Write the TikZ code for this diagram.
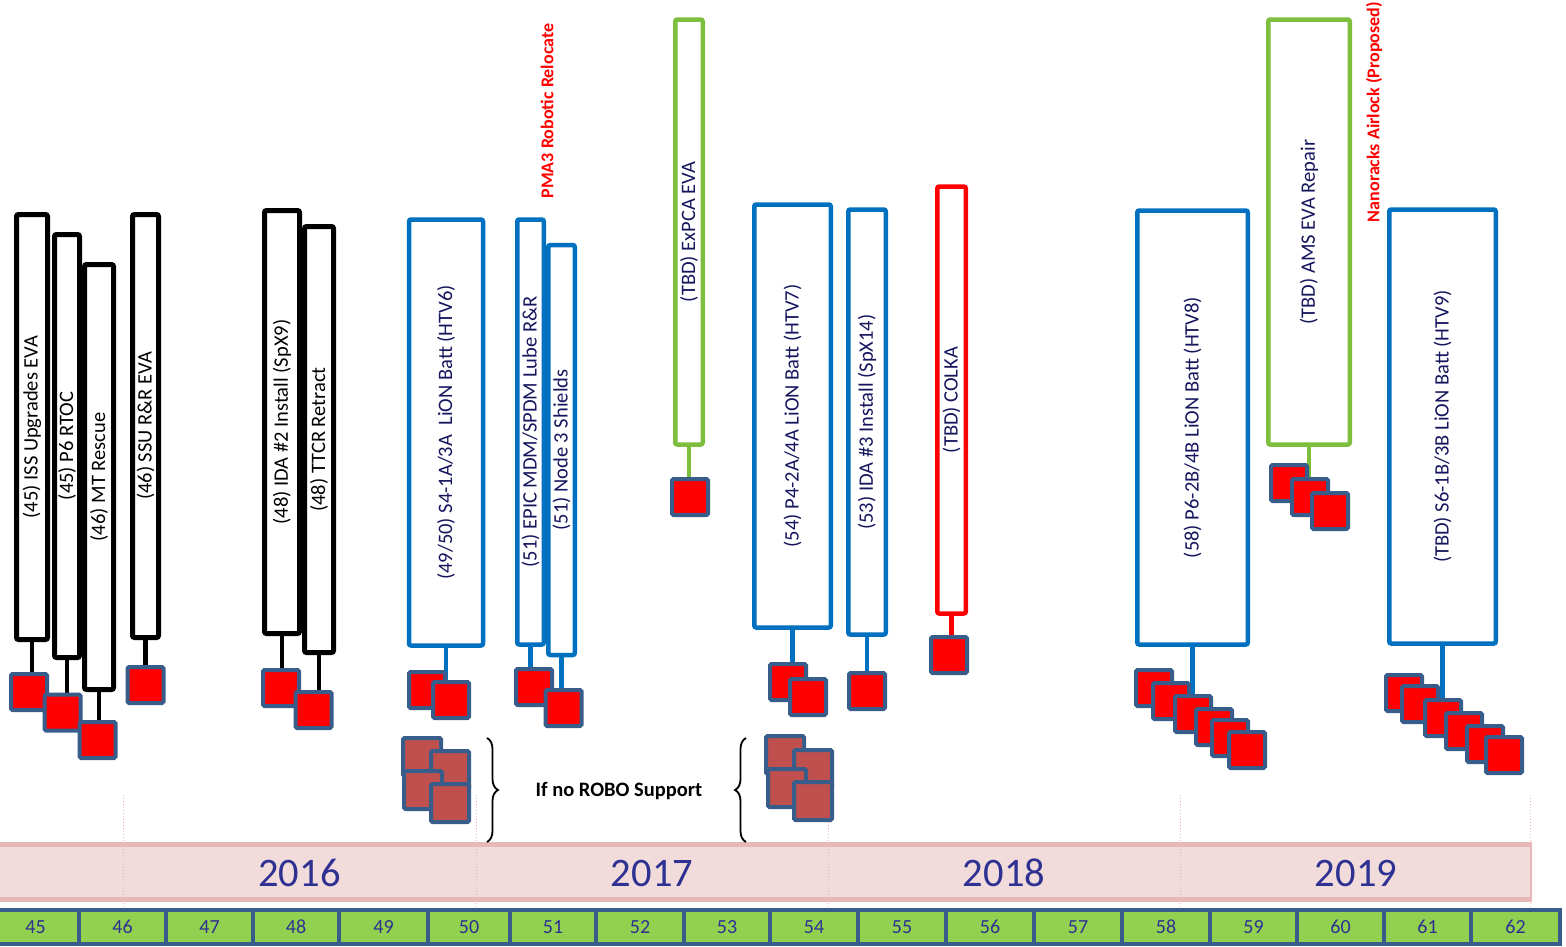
\documentclass[tikz,border=0pt]{standalone}
\usepackage{fontspec}
\setmainfont{Carlito}
\usepackage{tikz}
\usetikzlibrary{positioning,decorations.pathreplacing}
\definecolor{evablue}{RGB}{0,112,192}
\definecolor{evagreen}{RGB}{125,190,60}
\definecolor{evared}{RGB}{255,0,0}
\definecolor{sqedge}{RGB}{56,93,138}
\definecolor{robofill}{RGB}{192,80,77}
\definecolor{navy}{RGB}{22,22,94}
\definecolor{yearblue}{RGB}{46,49,146}
\definecolor{bandfill}{RGB}{242,220,219}
\definecolor{bandedge}{RGB}{230,185,184}
\definecolor{cellgreen}{RGB}{146,208,80}
\tikzset{
    bar/.style={rectangle, rounded corners=2pt, rotate=90, fill=white, inner sep=0pt, font=\fontsize{20.5}{20.5}\selectfont, text=navy, line width=4.5pt},
    blackbar/.style={bar, draw=black, text=black, line width=5pt},
    bluebar/.style={bar, draw=evablue},
    greenbar/.style={bar, draw=evagreen},
    redbar/.style={bar, draw=evared},
    sq/.style={rectangle, draw=sqedge, fill=evared, line width=4pt, minimum size=36pt, inner sep=0pt, rounded corners=1.5pt},
    robo/.style={sq, fill=robofill, minimum size=38pt},
    stem/.style={line width=4.5pt},
    note/.style={rotate=90, text=evared, font=\bfseries\fontsize{18}{18}\selectfont},
    cell/.style={rectangle, draw=sqedge, fill=cellgreen, line width=4pt, minimum height=34pt, inner sep=0pt, text=yearblue, font=\fontsize{20}{20}\selectfont},
    year/.style={text=yearblue, font=\fontsize{40.5}{40.5}\selectfont},
}
\begin{document}
\begin{tikzpicture}[x=1pt,y=-1pt]
  \useasboundingbox (0,0) rectangle (1566,946);

  \fill[bandfill] (-5,842) rectangle (1532,902);
  \draw[bandedge, line width=5pt] (-5,844.5) -- (1532,844.5);
  \draw[bandedge, line width=5pt] (-5,899.5) -- (1532,899.5);
  \draw[bandedge, line width=1.5pt] (1531,844) -- (1531,900);
  \foreach \x in {123,476,828,1180,1530}
    \draw[bandedge, dotted, line width=1pt] (\x,795) -- (\x,938);
  \foreach \y/\x in {2016/299.5,2017/652,2018/1004,2019/1356}
    \node[year] (y\y) at (\x,873) {\y};

  \foreach \n/\l/\r in {45/-8/79,46/79/166,47/166/253,48/253/339,49/339/428,50/428/510,51/510/596,52/596/684,53/684/770,54/770/858,55/858/946,56/946/1034,57/1034/1122,58/1122/1210,59/1210/1297,60/1297/1384,61/1384/1471,62/1471/1560}{
    \pgfmathsetmacro\w{\r-\l}
    \pgfmathsetmacro\cx{(\l+\r)/2}
    \node[cell, minimum width=\w pt] (c\n) at (\cx,927) {\n};
  }

  \node[blackbar, minimum width=425pt, minimum height=31pt] (iss) at (32,427) {(45) ISS Upgrades EVA};
  \node[blackbar, minimum width=423pt, minimum height=25pt] (rtoc) at (67,446) {(45) P6 RTOC};
  \node[blackbar, minimum width=425pt, minimum height=29pt] (mt) at (99,477) {(46) MT Rescue};
  \node[blackbar, minimum width=423pt, minimum height=26pt] (ssu) at (145.5,426) {(46) SSU R\&R EVA};
  \node[blackbar, minimum width=423pt, minimum height=35pt] (ida2) at (282,422) {(48) IDA \#2 Install (SpX9)};
  \node[blackbar, minimum width=426pt, minimum height=29pt] (ttcr) at (319,439.5) {(48) TTCR Retract};
  \node[bluebar, minimum width=426pt, minimum height=74pt] (htv6) at (446,432.5) {(49/50) S4-1A/3A\ \ LiON Batt (HTV6)};
  \node[bluebar, minimum width=425pt, minimum height=26.5pt] (epic) at (530.5,432) {(51) EPIC MDM/SPDM Lube R\&R};
  \node[bluebar, minimum width=410pt, minimum height=26.5pt] (node3) at (561.5,450) {(51) Node 3 Shields};
  \node[greenbar, minimum width=425pt, minimum height=27.5pt] (expca) at (689,232) {(TBD) ExPCA EVA};
  \node[bluebar, minimum width=423pt, minimum height=76.5pt] (htv7) at (792.5,416) {(54) P4-2A/4A LiON Batt (HTV7)};
  \node[bluebar, minimum width=425pt, minimum height=37.5pt] (ida3) at (867,422) {(53) IDA \#3 Install (SpX14)};
  \node[redbar, minimum width=427pt, minimum height=28.5pt] (colka) at (951.5,400) {(TBD) COLKA};
  \node[bluebar, minimum width=434pt, minimum height=110.5pt] (htv8) at (1192.5,427.5) {(58) P6-2B/4B LiON Batt (HTV8)};
  \node[greenbar, minimum width=425pt, minimum height=81.5pt] (ams) at (1309,232) {(TBD) AMS EVA Repair};
  \node[bluebar, minimum width=434pt, minimum height=106.5pt] (htv9) at (1442.5,426.5) {(TBD) S6-1B/3B LiON Batt (HTV9)};

  \node[note] (pma) at (547,111) {PMA3 Robotic Relocate};
  \node[note] (nano) at (1374,112) {Nanoracks Airlock (Proposed)};

  \draw[stem] (iss.west) -- ++(0,35);
  \draw[stem] (rtoc.west) -- ++(0,40);
  \draw[stem] (mt.west) -- ++(0,35);
  \draw[stem] (ssu.west) -- ++(0,30);
  \draw[stem] (ida2.west) -- ++(0,40);
  \draw[stem] (ttcr.west) -- ++(0,40);
  \draw[stem, evablue] (htv6.west) -- ++(0,40);
  \draw[stem, evablue] (epic.west) -- ++(0,40);
  \draw[stem, evablue] (node3.west) -- ++(0,40);
  \draw[stem, evagreen] (expca.west) -- ++(0,40);
  \draw[stem, evablue] (htv7.west) -- ++(0,40);
  \draw[stem, evablue] (ida3.west) -- ++(0,40);
  \draw[stem, evared] (colka.west) -- ++(0,30);
  \draw[stem, evablue] (htv8.west) -- ++(0,60);
  \draw[stem, evagreen] (ams.west) -- ++(0,40);
  \draw[stem, evablue] (htv9.west) -- ++(0,60);

  \node[sq] (s1) at (29,692) {};
  \node[sq] (s2) at (62.5,712.5) {};
  \node[sq] (s3) at (97.5,740) {};
  \node[sq] (s4) at (145.5,685) {};
  \node[sq] (s5) at (281,688) {};
  \node[sq] (s6) at (313.5,710) {};
  \node[sq] (s7) at (427,690) {};
  \node[sq] (s8) at (451,700) {};
  \node[sq] (s9) at (534,687) {};
  \node[sq] (s10) at (563.5,708) {};
  \node[sq] (s11) at (690,497) {};
  \node[sq] (s12) at (788,682) {};
  \node[sq] (s13) at (808,697) {};
  \node[sq] (s14) at (867,691) {};
  \node[sq] (s15) at (949,655) {};
  \foreach \i/\x/\y in {1/1154/688,2/1171/701,3/1193/714,4/1214/727,5/1230/738,6/1247/750}
    \node[sq] (n\i) at (\x,\y) {};
  \foreach \i/\x/\y in {1/1289/483,2/1310/497,3/1330/511}
    \node[sq] (a\i) at (\x,\y) {};
  \foreach \i/\x/\y in {1/1404/693,2/1420/704,3/1443/718,4/1464/731,5/1485/744,6/1504/755}
    \node[sq] (p\i) at (\x,\y) {};

  \foreach \i/\x/\y in {1/422/757,2/450/770,3/423/790,4/450/803}
    \node[robo] (l\i) at (\x,\y) {};
  \foreach \i/\x/\y in {1/785/755,2/813/769,3/787/788,4/813/801}
    \node[robo] (r\i) at (\x,\y) {};

  \node[font=\bfseries\fontsize{20.5}{20.5}\selectfont] (robo) at (619,791) {If no ROBO Support};
  \coordinate (lbtop) at (487,738);
  \coordinate (lbbot) at (487,842);
  \coordinate (rbtop) at (746,738);
  \coordinate (rbbot) at (746,842);
  \draw[line width=1.8pt, decorate, decoration={brace, amplitude=11pt}] (lbtop) -- (lbbot);
  \draw[line width=1.8pt, decorate, decoration={brace, amplitude=11pt}] (rbbot) -- (rbtop);
\end{tikzpicture}
\end{document}
